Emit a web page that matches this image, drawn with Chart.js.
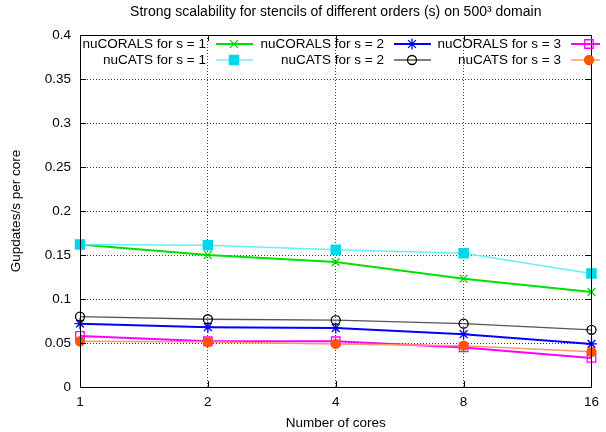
<!DOCTYPE html>
<html>
<head>
<meta charset="utf-8">
<script src="https://cdn.jsdelivr.net/npm/chart.js@4.4.0/dist/chart.umd.min.js"></script>
<style>
html, body { margin: 0; padding: 0; background: #fff; }
#wrap { width: 606px; height: 432px; }
</style>
</head>
<body>
<div id="wrap"><canvas id="chart" width="606" height="432"></canvas></div>
<script>
// ===== DATA =====
const coreCounts = ['1', '2', '4', '8', '16'];
const yTickLabels = ['0', '0.05', '0.1', '0.15', '0.2', '0.25', '0.3', '0.35', '0.4'];

const coralsS1 = [0.162, 0.150, 0.142, 0.123, 0.108];
const coralsS2 = [0.072, 0.068, 0.067, 0.060, 0.049];
const coralsS3 = [0.058, 0.052, 0.052, 0.045, 0.033];
const catsS1 = [0.162, 0.161, 0.156, 0.152, 0.129];
const catsS2 = [0.080, 0.077, 0.076, 0.072, 0.065];
const catsS3 = [0.052, 0.051, 0.049, 0.047, 0.040];

const seriesNames = [
    'nuCORALS for s = 1', 'nuCORALS for s = 2', 'nuCORALS for s = 3',
    'nuCATS for s = 1', 'nuCATS for s = 2', 'nuCATS for s = 3'
];

const FONT = 'Liberation Sans, Arial, Helvetica, sans-serif';

function makeSet(i, data, line, pointFill, pointEdge, style, radius, width) {
    return {
        label: seriesNames[i],
        data: data,
        borderColor: line,
        borderWidth: width,
        backgroundColor: pointFill,
        pointStyle: style,
        pointRadius: radius,
        pointHoverRadius: radius,
        pointBackgroundColor: pointFill,
        pointBorderColor: pointEdge,
        pointBorderWidth: 1.3,
        tension: 0,
        fill: false,
        clip: false,
        order: 6 - i
    };
}

const datasets = [
    makeSet(0, coralsS1, '#00e000', 'rgba(0,0,0,0)', '#00d000', 'crossRot', 5.5, 2),
    makeSet(1, coralsS2, '#0000ff', 'rgba(0,0,0,0)', '#0000ff', 'star', 5.5, 2),
    makeSet(2, coralsS3, '#ff00ff', 'rgba(0,0,0,0)', '#ff00ff', 'rect', 6, 2),
    makeSet(3, catsS1, '#66f0f8', '#00d8e8', '#00d8e8', 'rect', 6.5, 1.5),
    makeSet(4, catsS2, '#555555', 'rgba(0,0,0,0)', '#000000', 'circle', 4.5, 1.3),
    makeSet(5, catsS3, '#ff9966', '#ff5500', '#ff5500', 'circle', 4.5, 1.5)
];

// ===== PLUGINS =====

// frame on all four sides with small inward ticks, gnuplot style
const framePlugin = {
    id: 'frame',
    afterDatasetsDraw(chart) {
        const { ctx, chartArea: a, scales } = chart;
        ctx.save();
        ctx.strokeStyle = '#000';
        ctx.lineWidth = 1;
        ctx.beginPath();
        scales.y.ticks.forEach((t, i) => {
            const y = Math.round(scales.y.getPixelForTick(i)) + 0.5;
            ctx.moveTo(a.left, y); ctx.lineTo(a.left + 6, y);
            ctx.moveTo(a.right, y); ctx.lineTo(a.right - 6, y);
        });
        scales.x.ticks.forEach((t, i) => {
            const x = Math.round(scales.x.getPixelForTick(i)) + 0.5;
            ctx.moveTo(x, a.bottom); ctx.lineTo(x, a.bottom - 6);
            ctx.moveTo(x, a.top); ctx.lineTo(x, a.top + 6);
        });
        ctx.stroke();
        ctx.strokeRect(Math.round(a.left) + 0.5, Math.round(a.top) + 0.5,
            Math.round(a.right - a.left), Math.round(a.bottom - a.top));
        ctx.restore();
    }
};

// key inside the plot: text right-aligned, sample line + marker after it
const keyPlugin = {
    id: 'key',
    afterDraw(chart) {
        const { ctx } = chart;
        const colRight = [206, 384, 561];
        const rowY = [44, 60];
        ctx.save();
        ctx.font = '13.5px ' + FONT;
        ctx.textAlign = 'right';
        ctx.textBaseline = 'middle';
        chart.data.datasets.forEach((ds, i) => {
            const col = i % 3, row = Math.floor(i / 3);
            const xr = colRight[col], y = rowY[row];
            ctx.fillStyle = '#000';
            ctx.fillText(ds.label, xr, y);
            const x0 = xr + 10;
            const x1 = col === 2 ? 600 : xr + 47;
            ctx.strokeStyle = ds.borderColor;
            ctx.lineWidth = ds.borderWidth;
            ctx.beginPath();
            ctx.moveTo(x0, y);
            ctx.lineTo(x1, y);
            ctx.stroke();
            ctx.fillStyle = ds.pointBackgroundColor;
            ctx.strokeStyle = ds.pointBorderColor;
            ctx.lineWidth = ds.pointBorderWidth;
            Chart.helpers.drawPoint(ctx, {
                pointStyle: ds.pointStyle,
                radius: ds.pointRadius,
                rotation: 0,
                borderWidth: ds.pointBorderWidth
            }, xr + 28, y);
        });
        ctx.restore();
    }
};

// ===== CHART =====
const ctx = document.getElementById('chart').getContext('2d');
new Chart(ctx, {
    type: 'line',
    data: { labels: coreCounts, datasets: datasets },
    options: {
        responsive: false,
        animation: false,
        devicePixelRatio: 1,
        layout: { padding: { left: 0, right: 9, top: 0, bottom: 0 } },
        plugins: {
            legend: { display: false },
            tooltip: { enabled: false },
            title: {
                display: true,
                fullSize: false,
                text: 'Strong scalability for stencils of different orders (s) on 500\u00B3 domain',
                color: '#000',
                font: { family: FONT, size: 14, weight: 'normal' },
                padding: { top: 3.6, bottom: 14.6 }
            }
        },
        scales: {
            x: {
                type: 'category',
                offset: false,
                grid: { color: 'rgba(0,0,0,0.75)', lineWidth: 1, drawTicks: false },
                border: { display: true, color: '#000', width: 1, dash: [1, 2] },
                ticks: { color: '#000', font: { family: FONT, size: 13.5 }, padding: 7, maxRotation: 0 },
                title: {
                    display: true, text: 'Number of cores', color: '#000',
                    font: { family: FONT, size: 13.5 }, padding: { top: 0, bottom: 1 }
                },
                afterFit(scale) { scale.height = 45; }
            },
            y: {
                min: 0,
                max: 0.4,
                grid: { color: 'rgba(0,0,0,0.75)', lineWidth: 1, drawTicks: false },
                border: { display: true, color: '#000', width: 1, dash: [1, 2] },
                ticks: {
                    stepSize: 0.05,
                    color: '#000',
                    font: { family: FONT, size: 13.5 },
                    padding: 9,
                    callback: function(value, index) { return yTickLabels[index]; }
                },
                title: {
                    display: true, text: 'Gupdates/s per core', color: '#000',
                    font: { family: FONT, size: 13.5 }, padding: { top: 8, bottom: 0 }
                },
                afterFit(scale) { scale.width = 80; }
            }
        }
    },
    plugins: [framePlugin, keyPlugin]
});
</script>
</body>
</html>
